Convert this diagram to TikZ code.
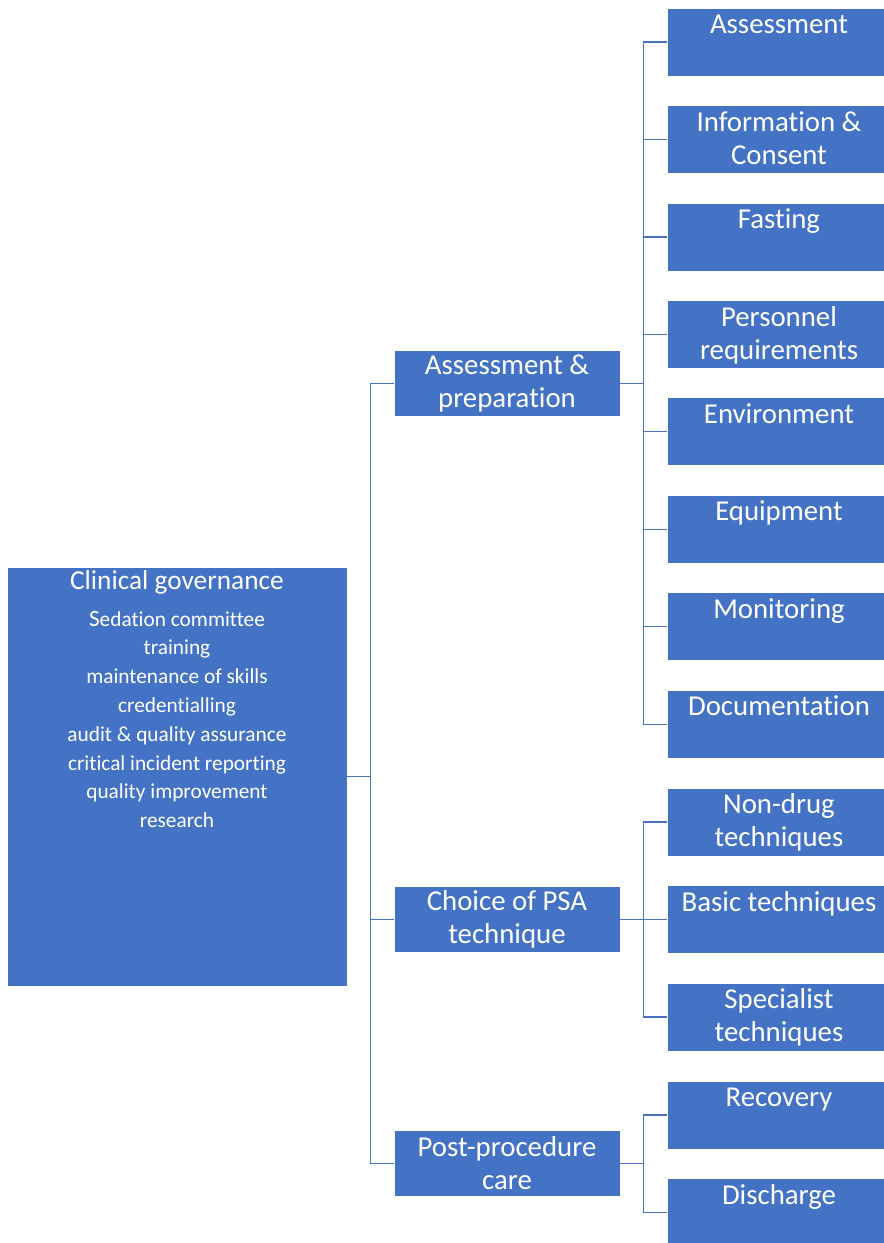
\documentclass[tikz,border=0pt]{standalone}
\usepackage{fontspec}
\setmainfont{Carlito}[Ligatures=NoCommon]
\usetikzlibrary{positioning}
\definecolor{boxblue}{RGB}{68,114,196}
\definecolor{lineblue}{RGB}{72,116,196}

% text of the right-hand boxes sits at the top of the box
\newcommand{\leaftext}[1]{\parbox[c][51pt][t]{168pt}{\centering
  \fontsize{21.6}{24.75}\selectfont\rule{0pt}{19.2pt}#1}}

\begin{document}
\begin{tikzpicture}[x=0.75pt, y=-0.75pt,
  box/.style={fill=boxblue, draw=white, line width=0.6pt,
              inner sep=0pt, outer sep=0pt, text=white},
  leaf/.style={box, minimum width=168pt, minimum height=51pt},
  mid/.style={box, minimum width=169.5pt, minimum height=49.5pt,
              align=center, font=\fontsize{21.6}{24.75}\selectfont},
  link/.style={draw=lineblue, line width=0.9pt}]
\useasboundingbox (0,0) rectangle (883,1243);

% governance box
\node[box, minimum width=255pt, minimum height=314.25pt] (gov) at (177,776.5)
  {\parbox[c][314.25pt][t]{255pt}{\centering
   {\fontsize{20.5}{24}\selectfont\rule{0pt}{17pt}Clinical governance\par}
   \vspace{5.7pt}
   {\fontsize{16}{21.6}\selectfont {\fontsize{17.5}{21.6}\selectfont S}edation committee\\
    training\\ maintenance of skills\\ credentialling\\
    audit \& quality assurance\\ critical incident reporting\\
    quality improvement\\ research\par}}};

% middle column
\node[mid] (prep) at (507,383.25) {Assessment \&\\preparation};
\node[mid] (choice) at (507,919.5) {Choice of PSA\\technique};
\node[mid] (post) at (507,1163.5) {Post-procedure\\care};

% assessment & preparation
\node[leaf] (assess) at (779,42) {\leaftext{Assessment}};
\node[leaf, below=22.1pt of assess] (consent) {\leaftext{Information \&\\Consent}};
\node[leaf, below=22.1pt of consent] (fasting) {\leaftext{Fasting}};
\node[leaf, below=22.1pt of fasting] (staff) {\leaftext{Personnel\\requirements}};
\node[leaf, below=22.1pt of staff] (environ) {\leaftext{Environment}};
\node[leaf, below=22.1pt of environ] (equip) {\leaftext{Equipment}};
\node[leaf, below=22.1pt of equip] (monitor) {\leaftext{Monitoring}};
\node[leaf, below=22.1pt of monitor] (docs) {\leaftext{Documentation}};

% techniques
\node[leaf] (nondrug) at (779,822) {\leaftext{Non-drug\\techniques}};
\node[leaf, below=22.1pt of nondrug] (basic) {\leaftext{Basic techniques}};
\node[leaf, below=22.1pt of basic] (special) {\leaftext{Specialist\\techniques}};

% after the procedure
\node[leaf] (recovery) at (779,1115) {\leaftext{Recovery}};
\node[leaf, below=22.1pt of recovery] (discharge) {\leaftext{Discharge}};

% elbow connectors
\draw[link] (gov.east) -- ++(23.5,0) coordinate (govfork);
\foreach \n in {prep,choice,post}
  \draw[link] (govfork) |- (\n.west);

\draw[link] (prep.east) -- ++(23.5,0) coordinate (prepfork);
\foreach \n in {assess,consent,fasting,staff,environ,equip,monitor,docs}
  \draw[link] (prepfork) |- (\n.west);

\draw[link] (choice.east) -- ++(23.5,0) coordinate (choicefork);
\foreach \n in {nondrug,basic,special}
  \draw[link] (choicefork) |- (\n.west);

\draw[link] (post.east) -- ++(23.5,0) coordinate (postfork);
\foreach \n in {recovery,discharge}
  \draw[link] (postfork) |- (\n.west);
\end{tikzpicture}
\end{document}
